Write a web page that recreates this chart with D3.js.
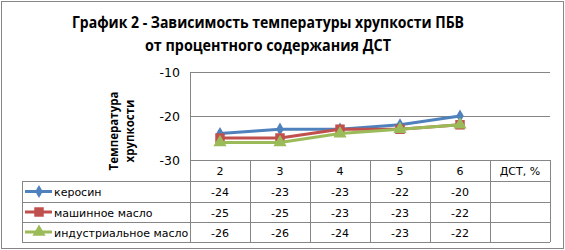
<!DOCTYPE html>
<html><head><meta charset="utf-8">
<script src="https://cdn.jsdelivr.net/npm/d3@7"></script>
<style>body{margin:0;background:#fff}svg{display:block}</style>
</head><body>
<script>
const categories = ["2","3","4","5","6","ДСТ, %"];
const seriesNames = ["керосин","машинное масло","индустриальное масло"];
const kerosene = [-24,-23,-23,-22,-20];
const machineOil = [-25,-25,-23,-23,-22];
const industrialOil = [-26,-26,-24,-23,-22];
const yTicks = [-10,-20,-30];
const colors = ["#4F81BD","#C0504D","#9BBB59"];
const series = [kerosene, machineOil, industrialOil];

const W=565,H=250;
const svg=d3.select("body").append("svg").attr("width",W).attr("height",H);
svg.append("rect").attr("x",1.5).attr("y",1.5).attr("width",W-3).attr("height",H-3)
  .attr("fill","#fff").attr("stroke","#868686").attr("stroke-width",1);

// title
const tf="'Open Sans', 'DejaVu Sans', sans-serif";
svg.append("text").attr("x",268).attr("y",28).attr("text-anchor","middle")
  .attr("font-family",tf).attr("font-weight","bold").attr("font-size",16)
  .attr("textLength",392).attr("lengthAdjust","spacingAndGlyphs")
  .text("График 2 - Зависимость температуры хрупкости ПБВ");
svg.append("text").attr("x",268).attr("y",51).attr("text-anchor","middle")
  .attr("font-family",tf).attr("font-weight","bold").attr("font-size",16)
  .attr("textLength",246).attr("lengthAdjust","spacingAndGlyphs")
  .text("от процентного содержания ДСТ");

const x=d3.scaleBand().domain(categories).range([190,550]);
const y=d3.scaleLinear().domain([-30,-10]).range([160,72]);

// gridlines
svg.append("g").selectAll("line").data(yTicks.filter(d=>d!==-30)).join("line")
  .attr("x1",190).attr("x2",550).attr("y1",d=>Math.round(y(d))+0.5).attr("y2",d=>Math.round(y(d))+0.5)
  .attr("stroke","#868686");
svg.append("line").attr("x1",190.5).attr("x2",190.5).attr("y1",Math.round(y(-10))+0.5).attr("y2",160.5).attr("stroke","#868686");

// y tick labels
svg.append("g").selectAll("text").data(yTicks).join("text")
  .attr("x",180).attr("y",d=>y(d)+5).attr("text-anchor","end")
  .attr("font-family","'DejaVu Sans', Verdana, sans-serif").attr("font-size",12.5)
  .attr("fill","#000").text(d=>d);

// y axis title
const yt=svg.append("text").attr("transform","translate(118,131) rotate(-90)")
  .attr("text-anchor","middle").attr("font-family",tf).attr("font-weight","bold").attr("font-size",11.5);
yt.append("tspan").attr("x",0).attr("dy",0).text("Температура");
yt.append("tspan").attr("x",0).attr("dy",16).text("хрупкости");

// lines
const line=d3.line().x((d,i)=>x(categories[i])+x.bandwidth()/2).y(d=>y(d));
const symTypes=[d3.symbolDiamond,d3.symbolSquare,d3.symbolTriangle];
const symSizes=[50,90,75];
series.forEach((s,k)=>{
  svg.append("path").attr("d",line(s)).attr("fill","none").attr("stroke",colors[k]).attr("stroke-width",3).attr("stroke-linejoin","round");
  svg.append("g").selectAll("path").data(s).join("path")
    .attr("transform",(d,i)=>`translate(${x(categories[i])+x.bandwidth()/2},${y(d)})`)
    .attr("d",d3.symbol().type(symTypes[k]).size(symSizes[k])).attr("fill",colors[k]);
});

// data table
const rowY=[160,181,202,222,242];
const tableG=svg.append("g");
const gc="#868686";
// horizontal lines
rowY.forEach((ry,i)=>{
  tableG.append("line").attr("x1",i===0?190:22).attr("x2",550).attr("y1",ry+0.5).attr("y2",ry+0.5).attr("stroke",gc);
});
// vertical lines
const colX=categories.map(c=>x(c)).concat([550]);
colX.forEach(cx=>{
  tableG.append("line").attr("x1",Math.round(cx)+0.5).attr("x2",Math.round(cx)+0.5).attr("y1",160).attr("y2",242).attr("stroke",gc);
});
tableG.append("line").attr("x1",22.5).attr("x2",22.5).attr("y1",181).attr("y2",242).attr("stroke",gc);

const tff="'DejaVu Sans', Verdana, sans-serif";
// header
tableG.selectAll("text.h").data(categories).join("text").attr("class","h")
  .attr("x",d=>x(d)+x.bandwidth()/2).attr("y",175).attr("text-anchor","middle")
  .attr("font-family",tff).attr("font-size",11).text(d=>d);
// rows
series.forEach((s,k)=>{
  const cy=(rowY[k+1]+rowY[k+2])/2;
  tableG.selectAll("text.v"+k).data(s).join("text").attr("class","v"+k)
    .attr("x",(d,i)=>x(categories[i])+x.bandwidth()/2).attr("y",cy+4.5).attr("text-anchor","middle")
    .attr("font-family",tff).attr("font-size",11).text(d=>d);
  tableG.append("line").attr("x1",25).attr("x2",52).attr("y1",cy).attr("y2",cy).attr("stroke",colors[k]).attr("stroke-width",3);
  tableG.append("path").attr("transform",`translate(39,${cy})`).attr("d",d3.symbol().type(symTypes[k]).size(symSizes[k])).attr("fill",colors[k]);
  tableG.append("text").attr("x",54).attr("y",cy+4.5).attr("font-family",tff).attr("font-size",11).text(seriesNames[k]);
});
</script>
</body></html>
